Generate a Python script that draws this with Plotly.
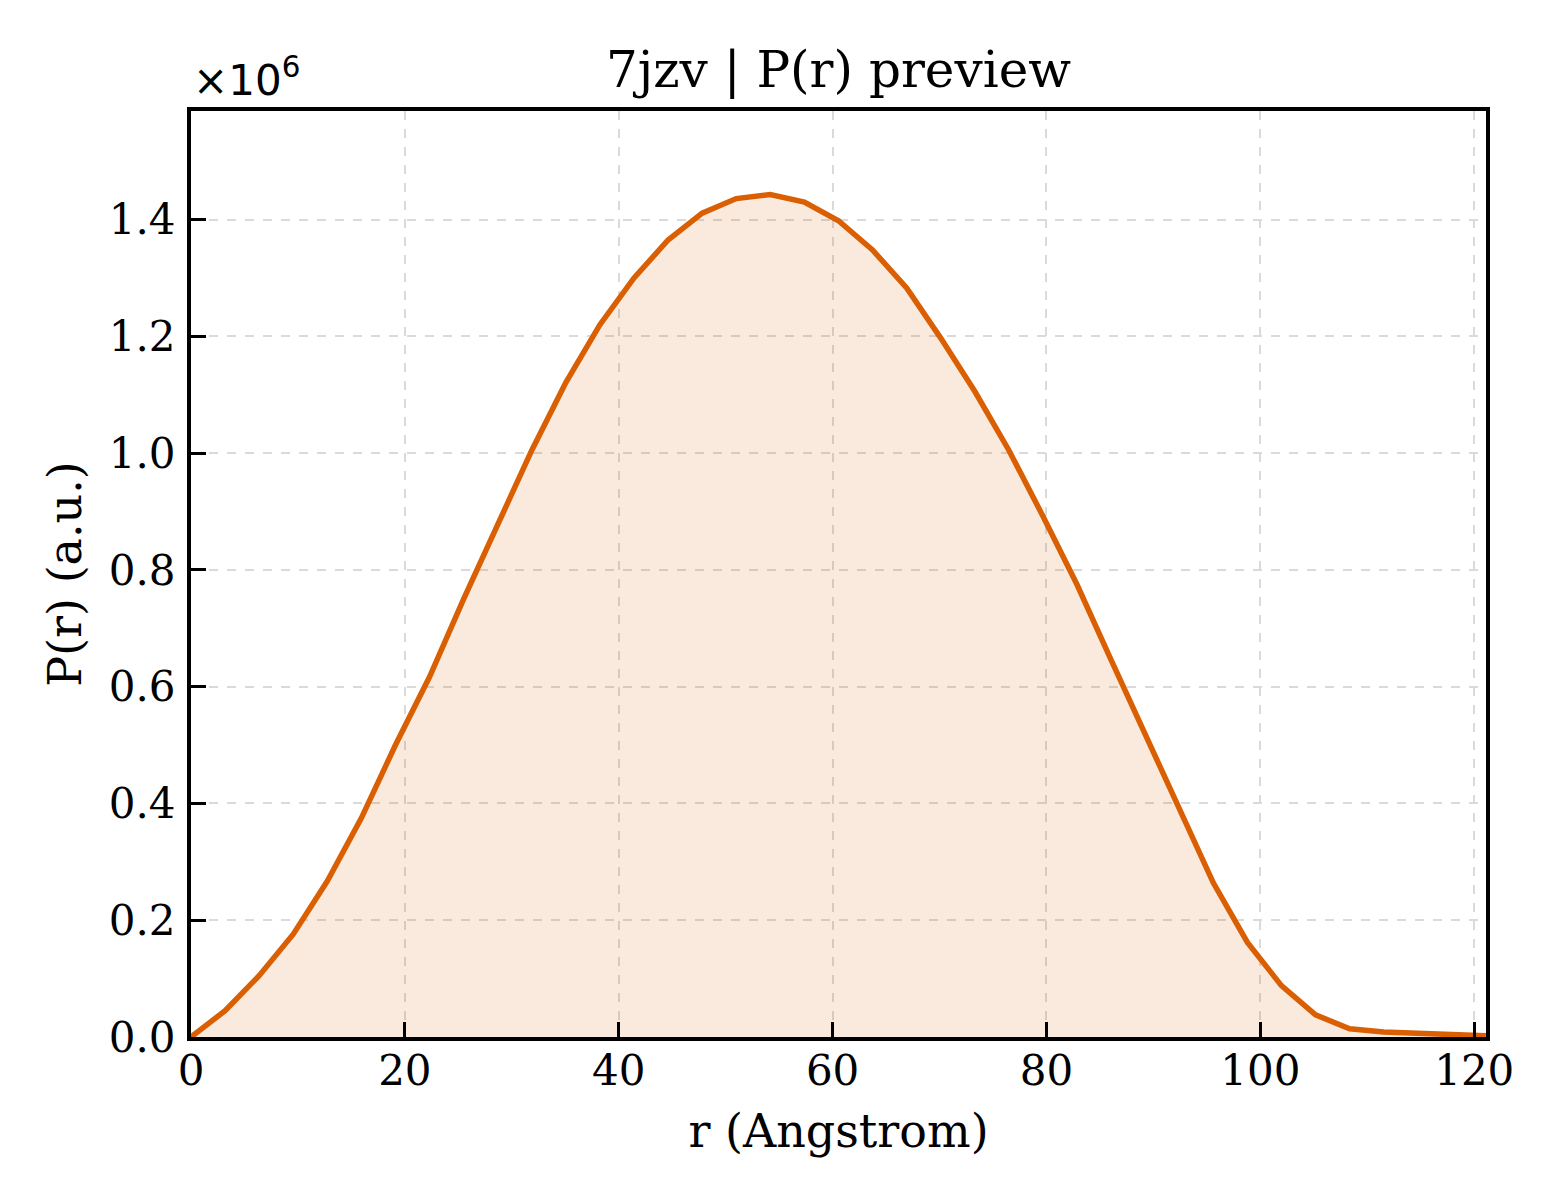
import plotly.graph_objects as go

r_angstrom = [0.0, 3.19, 6.37, 9.56, 12.75, 15.93, 19.12, 22.31, 25.49, 28.68,
              31.87, 35.05, 38.24, 41.43, 44.61, 47.80, 50.99, 54.17, 57.36, 60.55,
              63.73, 66.92, 70.11, 73.29, 76.48, 79.67, 82.85, 86.04, 89.23, 92.41,
              95.60, 98.79, 101.97, 105.16, 108.35, 111.53, 114.72, 117.91, 121.09]
p_r_millions = [0.0, 0.045, 0.105, 0.176, 0.267, 0.375, 0.50, 0.617, 0.75, 0.878,
                1.005, 1.121, 1.220, 1.300, 1.365, 1.411, 1.436, 1.443, 1.430, 1.398,
                1.348, 1.283, 1.197, 1.106, 1.005, 0.892, 0.775, 0.646, 0.52, 0.392,
                0.264, 0.162, 0.088, 0.038, 0.014, 0.0085, 0.007, 0.004, 0.002]

x_ticks = [0, 20, 40, 60, 80, 100, 120]
y_tick_labels = ["0.0", "0.2", "0.4", "0.6", "0.8", "1.0", "1.2", "1.4"]

p_r = [v * 1e6 for v in p_r_millions]
y_tick_vals = [float(t) * 1e6 for t in y_tick_labels]

serif = "DejaVu Serif"

fig = go.Figure()
fig.add_trace(go.Scatter(x=r_angstrom, y=p_r,
                         mode='lines',
                         fill='tozeroy',
                         fillcolor='rgba(217,95,2,0.13)',
                         line=dict(color='#D95F02', width=5.5),
                         showlegend=False))

axis_style = dict(showline=True, linecolor='black', linewidth=4, mirror=True,
                  ticks='inside', ticklen=15, tickwidth=3, tickcolor='black',
                  showgrid=True, gridcolor='#dadada', gridwidth=1.5, griddash='dash',
                  zeroline=False,
                  tickfont=dict(family=serif, size=42, color='black'))

fig.update_xaxes(range=[0, 121.1], tickvals=x_ticks, ticklabelstandoff=-6,
                 title=dict(text='r (Angstrom)', font=dict(family=serif, size=46, color='black'),
                            standoff=21),
                 **axis_style)
fig.update_yaxes(range=[0, 1.586e6], tickvals=y_tick_vals, ticktext=y_tick_labels,
                 ticklabelstandoff=3,
                 title=dict(text='P(r) (a.u.)', font=dict(family=serif, size=46, color='black'),
                            standoff=14),
                 **axis_style)

fig.add_annotation(text='×10<sup>6</sup>', xref='paper', yref='paper', x=0, y=1,
                   xanchor='left', yanchor='bottom', yshift=4, showarrow=False,
                   font=dict(family='DejaVu Sans', size=42, color='black'))

# page adds ~7px offset, so margins are nudged to land the axes where the reference has them
fig.update_layout(width=1560, height=1200,
                  margin=dict(l=183, r=82, t=103, b=171),
                  paper_bgcolor='white', plot_bgcolor='white',
                  title=dict(text='7jzv | P(r) preview', x=0.5, xref='paper',
                             y=1 - 61 / 1200, yanchor='middle',
                             font=dict(family=serif, size=50, color='black')))

fig.write_html("out.html")
